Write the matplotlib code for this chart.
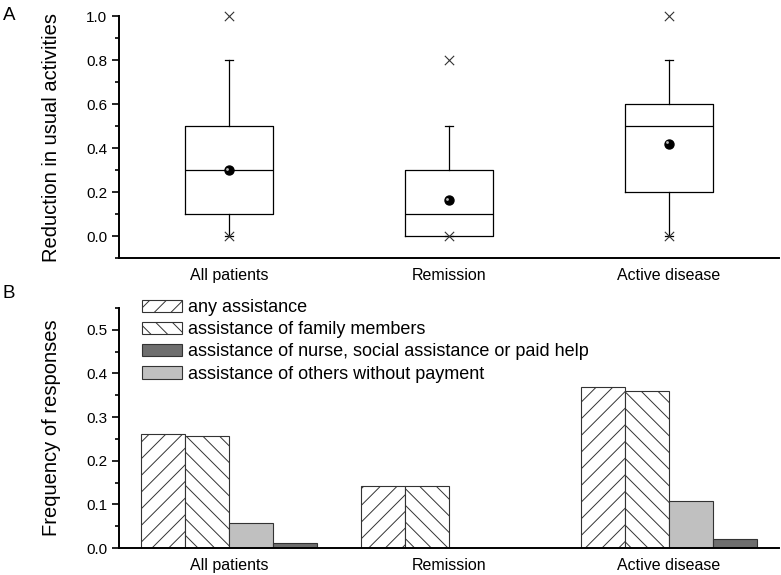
import numpy as np
import matplotlib.pyplot as plt
from matplotlib.patches import Patch
from matplotlib.ticker import MultipleLocator

plt.rcParams['font.family'] = ['Liberation Sans', 'DejaVu Sans']
plt.rcParams['hatch.linewidth'] = 0.7

# Panel A: box plot summaries
groups = ['All patients', 'Remission', 'Active disease']
q1 = [0.1, 0.0, 0.2]
med = [0.3, 0.1, 0.5]
q3 = [0.5, 0.3, 0.6]
whis_lo = [0.0, 0.0, 0.0]
whis_hi = [0.8, 0.5, 0.8]
means = [0.30, 0.164, 0.42]
mins = [0.0, 0.0, 0.0]
maxs = [1.0, 0.8, 1.0]

# Panel B: bar values
any_assist = [0.262, 0.143, 0.369]
family = [0.257, 0.143, 0.359]
others_free = [0.057, 0.0, 0.107]
nurse_paid = [0.011, 0.0, 0.020]
legend_labels = ['any assistance', 'assistance of family members',
                 'assistance of nurse, social assistance or paid help',
                 'assistance of others without payment']

fig = plt.figure(figsize=(7.81, 5.75), dpi=100)
axA = fig.add_axes([119/781, 1-258/575, 660/781, 242/575])
axB = fig.add_axes([119/781, 1-548/575, 660/781, 240/575])

pos = np.arange(1, 4)
stats = []
for i in range(3):
    stats.append({'med': med[i], 'q1': q1[i], 'q3': q3[i],
                  'whislo': whis_lo[i], 'whishi': whis_hi[i], 'fliers': []})
lp = dict(color='black', linewidth=0.9)
axA.bxp(stats, positions=pos, widths=0.4, showfliers=False, capwidths=0.035,
        boxprops=lp, whiskerprops=lp, capprops=lp, medianprops=lp)
axA.scatter(pos, mins, marker='x', s=45, color='#333333', linewidths=0.8, zorder=3, clip_on=False)
axA.scatter(pos, maxs, marker='x', s=45, color='#333333', linewidths=0.8, zorder=3, clip_on=False)
axA.scatter(pos, means, marker='o', s=42, color='black', zorder=4)
axA.scatter(pos - 0.008, np.array(means) + 0.006, marker='o', s=4, color='#bbbbbb',
            linewidths=0, zorder=5)

axA.set_xlim(0.5, 3.5)
axA.set_ylim(-0.1, 1.0)
axA.set_yticks([0.0, 0.2, 0.4, 0.6, 0.8, 1.0])
axA.yaxis.set_minor_locator(MultipleLocator(0.1))
axA.set_xticks(pos)
axA.set_xticklabels(groups)
axA.set_ylabel('Reduction in usual activities', fontsize=14.5, labelpad=18)

# bars
w = 0.2
hatch_ec = '#333333'
axB.bar(pos - 1.5*w, any_assist, w, facecolor='white', edgecolor=hatch_ec, hatch='//', linewidth=0.8)
axB.bar(pos - 0.5*w, family, w, facecolor='white', edgecolor=hatch_ec, hatch='\\\\', linewidth=0.8)
axB.bar(pos + 0.5*w, others_free, w, facecolor='#c0c0c0', edgecolor=hatch_ec, linewidth=0.8)
axB.bar(pos + 1.5*w, nurse_paid, w, facecolor='#6e6e6e', edgecolor=hatch_ec, linewidth=0.8)

axB.set_xlim(0.5, 3.5)
axB.set_ylim(0, 0.55)
axB.set_yticks([0.0, 0.1, 0.2, 0.3, 0.4, 0.5])
axB.yaxis.set_minor_locator(MultipleLocator(0.05))
axB.set_xticks(pos)
axB.set_xticklabels(groups)
axB.set_ylabel('Frequency of responses', fontsize=14.5, labelpad=18)

handles = [Patch(facecolor='white', edgecolor=hatch_ec, hatch='//', linewidth=0.8),
           Patch(facecolor='white', edgecolor=hatch_ec, hatch='\\\\', linewidth=0.8),
           Patch(facecolor='#6e6e6e', edgecolor=hatch_ec, linewidth=0.8),
           Patch(facecolor='#c0c0c0', edgecolor=hatch_ec, linewidth=0.8)]
fig.legend(handles, legend_labels, loc='upper left', bbox_to_anchor=(142/781, 1-299/575),
           frameon=False, fontsize=13, handlelength=2.2, handleheight=0.67,
           handletextpad=0.33, labelspacing=0.29, borderpad=0, borderaxespad=0)

for ax in (axA, axB):
    ax.spines['top'].set_visible(False)
    ax.spines['right'].set_visible(False)
    ax.spines['left'].set_linewidth(1.4)
    ax.spines['bottom'].set_linewidth(1.4)
    ax.tick_params(axis='y', which='major', length=5, width=1.2, labelsize=11, direction='out')
    ax.tick_params(axis='y', which='minor', length=3, width=1.2, direction='out')
    ax.tick_params(axis='x', length=0, labelsize=11.5, pad=7)

fig.text(3/781, 1-20/575, 'A', fontsize=13.5)
fig.text(3/781, 1-298/575, 'B', fontsize=13.5)

fig.savefig('out.png', dpi=100)
